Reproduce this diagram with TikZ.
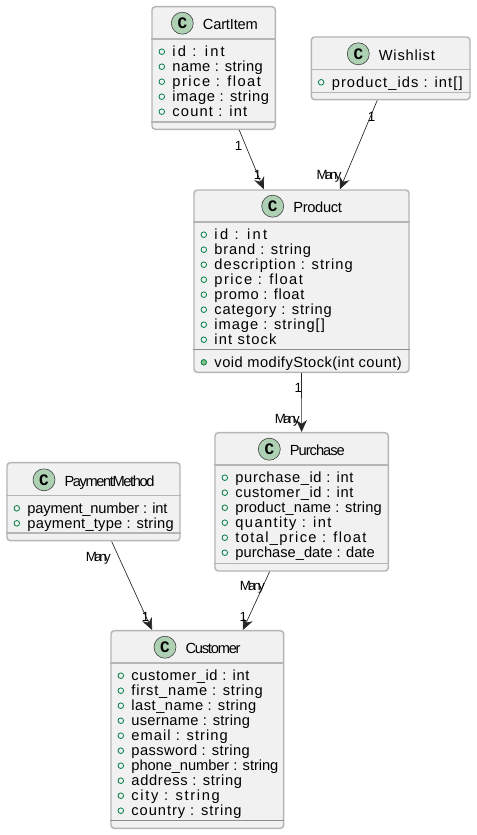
\documentclass[tikz,border=0pt]{standalone}
\usepackage{fontspec}
\setmainfont{Liberation Sans}
\newfontfamily\spotfont{Liberation Mono}
\usepackage{xstring}
\usetikzlibrary{arrows.meta,positioning,fit}
\definecolor{boxgray}{HTML}{B5B5B5}
\definecolor{boxfill}{HTML}{F1F1F1}
\definecolor{spotgreen}{HTML}{ADD1B2}
\definecolor{markgreen}{HTML}{038048}
\definecolor{markfill}{HTML}{84BE84}
\tikzset{
    classbox/.style={draw=boxgray,fill=boxfill,line width=1.1pt,rounded corners=2.5pt,inner sep=0pt},
    sepline/.style={draw=boxgray,line width=1.2pt},
    thinsep/.style={draw=black!45,line width=0.6pt},
    spot/.style={circle,draw=black!75,fill=spotgreen,line width=0.45pt,inner sep=0pt,minimum size=16.5pt,font=\spotfont\bfseries\fontsize{12pt}{13pt}\selectfont},
    classtitle/.style={inner sep=0pt,text height=11pt,text depth=1.5pt,font=\fontsize{11pt}{12pt}\selectfont},
    member/.style={inner sep=0pt,text height=9pt,text depth=1.5pt,font=\fontsize{11pt}{12pt}\selectfont},
    field/.style={circle,draw=markgreen,line width=0.6pt,inner sep=0pt,minimum size=4.2pt},
    method/.style={field,fill=markfill},
    assoc/.style={-{Stealth[length=9pt,width=8pt,inset=3pt]},line width=0.5pt,black!85},
    mult/.style={inner sep=0pt,font=\fontsize{10pt}{11pt}\selectfont}
}
% squeeze or spread a text to a width given in pixels
\newlength\fitlen
\newcommand{\fitted}[2]{\settowidth\fitlen{#2}\StrLen{#2}[\fitn]%
    \pgfmathsetmacro\fitls{(#1*0.75-\fitlen)/(\fitn-1)*100/\csname f@size\endcsname}%
    \addfontfeature{LetterSpace=\fitls}#2}
% name, title, title width, spot x, two corners, header y, members
\newcommand{\umlclass}[8]{
    \node[classbox,fit={(#5) (#6)}] (#1) {};
    \draw[sepline] (#1.west |- 0,#7) -- (#1.east |- 0,#7);
    \node[spot] (#1-spot) at (#4,#7-15.5) {C};
    \node[classtitle,right=6.75pt of #1-spot] (#1-title) {\fitted{#3}{#2}};
    \foreach \txt/\wid [count=\i] in {#8} {
        \node[field] (#1-f\i) at ([xshift=7.9pt]#1.west |- 0,{#7+15*\i-2}) {};
        \node[member,right=5.4pt of #1-f\i] (#1-t\i) {\fitted{\wid}{\txt}};
    }
}
\catcode`\_=12
\begin{document}
\begin{tikzpicture}[x=0.75pt,y=-0.75pt]
    \useasboundingbox (0,0) rectangle (477,835);
    \umlclass{cartitem}{CartItem}{55}{182.3}{152,6.7}{275.3,129.3}{38.7}{
        id : int/56, name : string/91, price : float/91, image : string/97.7, count : int/76.7}
    \draw[sepline] (cartitem.west |- 0,122) -- (cartitem.east |- 0,122);
    \umlclass{wishlist}{Wishlist}{56}{358.3}{311.3,37}{470,99.7}{69.3}{
        product_ids : int[]/132.7}
    \draw[sepline] (wishlist.west |- 0,92.3) -- (wishlist.east |- 0,92.3);
    \umlclass{product}{Product}{48.7}{272.7}{194,190}{409,372.3}{221.7}{
        id : int/56.7, brand : string/98, description : string/140, price : float/91,
        promo : float/91, category : string/118.7, image : string[]/112, int stock/63.3}
    \draw[thinsep] (product.west |- 0,349.3) -- (product.east |- 0,349.3);
    \node[method] (product-m) at ([xshift=7.9pt]product.west |- 0,362.3) {};
    \node[member,right=5.4pt of product-m] (product-mt) {\fitted{188.3}{void modifyStock(int count)}};
    \umlclass{purchase}{Purchase}{55}{269.3}{215,432.7}{388.3,571}{464.7}{
        purchase_id : int/119, customer_id : int/119, product_name : string/146.7,
        quantity : int/98.3, total_price : float/133.3, purchase_date : date/139.3}
    \draw[sepline] (purchase.west |- 0,563.3) -- (purchase.east |- 0,563.3);
    \umlclass{payment}{PaymentMethod}{90}{44}{7,462.7}{180,540.7}{495.3}{
        payment_number : int/139.7, payment_type : string/146.7}
    \draw[sepline] (payment.west |- 0,533) -- (payment.east |- 0,533);
    \umlclass{customer}{Customer}{55}{165}{111,630.7}{283.7,828.3}{662.7}{
        customer_id : int/119, first_name : string/132.7, last_name : string/125.7,
        username : string/119, email : string/98, password : string/119,
        phone_number : string/146.7, address : string/111.7, city : string/91, country : string/111.7}
    \draw[thinsep] (customer.west |- 0,820.3) -- (customer.east |- 0,820.3);
    \draw[assoc] (cartitem) -- (product);
    \draw[assoc] (wishlist) -- (product);
    \draw[assoc] (product) -- (purchase);
    \draw[assoc] (payment) -- (customer);
    \draw[assoc] (purchase) -- (customer);
    \node[mult] (l1) at (238.7,145.7) {1};
    \node[mult] (l2) at (257.7,175) {1};
    \node[mult] (l3) at (371.7,116.7) {1};
    \node[mult] (l4) at (329,176.5) {\fitted{25}{Many}};
    \node[mult] (l5) at (298.3,388.3) {1};
    \node[mult] (l6) at (287.3,419.8) {\fitted{25}{Many}};
    \node[mult] (l7) at (98.3,558.2) {\fitted{25}{Many}};
    \node[mult] (l8) at (145.7,616.7) {1};
    \node[mult] (l9) at (252.3,587.5) {\fitted{25}{Many}};
    \node[mult] (l10) at (243.3,616.7) {1};
\end{tikzpicture}
\end{document}
